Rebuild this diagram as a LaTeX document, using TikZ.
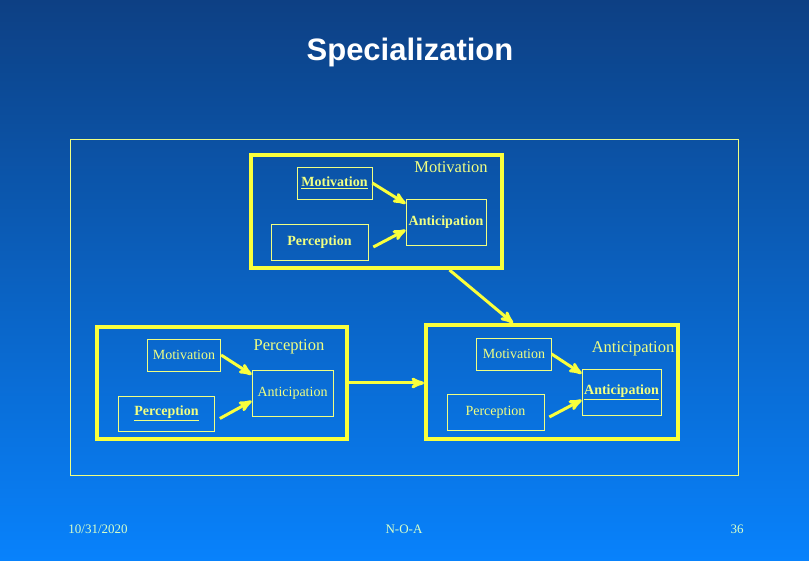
\documentclass[tikz,border=0pt]{standalone}
\usepackage{fontspec}
\setmainfont{Liberation Serif}
\newfontfamily\headfont{Liberation Sans}
\usepackage{xcolor}
\usetikzlibrary{arrows}
\definecolor{slidetop}{RGB}{13,64,132}
\definecolor{slidebot}{RGB}{8,130,252}
\definecolor{hiyel}{RGB}{250,255,60}
\definecolor{paleyel}{RGB}{240,255,130}
\definecolor{footcol}{RGB}{215,255,200}

\begin{document}
\begin{tikzpicture}[>=stealth',x=1pt,y=-1pt]
\tikzstyle{group}=[draw=hiyel,line width=4pt,inner sep=0pt]
\tikzstyle{unit}=[draw=paleyel,line width=0.7pt,inner sep=0pt,text=paleyel,font=\fontsize{14}{16}\selectfont]
\tikzstyle{caption}=[text=paleyel,font=\fontsize{16.5}{18}\selectfont]
\tikzstyle{footer}=[text=footcol,font=\fontsize{13}{15}\selectfont]
\tikzstyle{arrow}=[draw=hiyel,line width=3pt,->]
% slide background
\shade[top color=slidetop,bottom color=slidebot] (0,0) rectangle (809,561);
\useasboundingbox (0,0) rectangle (809,561);
\node[text=white,font=\headfont\bfseries\fontsize{31}{35}\selectfont] (title) at (410,52) {Specialization};
\node[draw=paleyel,line width=0.7pt,minimum width=668pt,minimum height=336pt] (frame) at (404,307) {};
% the three groups
\foreach \pos/\name/\w/\h in {{(376.5,211.5)/mot/251/113},{(222,383)/per/250/112},{(552,382)/ant/252/114}}
  \node[group,minimum width=\w pt,minimum height=\h pt] (\name) at \pos {};
\node[caption] (mot_c) at (451,167) {Motivation};
\node[caption] (per_c) at (289,347) {Perception};
\node[caption] (ant_c) at (633,349) {Anticipation};
% motivation group
\node[unit,minimum width=75pt,minimum height=32pt] (mot_m) at (334.5,183) {\bfseries\underline{Motivation}};
\node[unit,minimum width=97pt,minimum height=36pt] (mot_p) at (319.5,242) {\bfseries Perception};
\node[unit,minimum width=80pt,minimum height=46pt] (mot_a) at (446,222) {\bfseries Anticipation};
% perception group
\node[unit,minimum width=73.5pt,minimum height=32pt] (per_m) at (184,355) {Motivation};
\node[unit,minimum width=96pt,minimum height=35pt] (per_p) at (166.5,413.5) {\bfseries\underline{Perception}};
\node[unit,minimum width=81pt,minimum height=46pt] (per_a) at (292.5,393) {Anticipation};
% anticipation group
\node[unit,minimum width=74.5pt,minimum height=32pt] (ant_m) at (514,354) {Motivation};
\node[unit,minimum width=97pt,minimum height=36pt] (ant_p) at (495.5,412) {Perception};
\node[unit,minimum width=79pt,minimum height=46pt] (ant_a) at (621.5,392) {\bfseries\underline{Anticipation}};
\foreach \g in {mot,per,ant}{
  \path[arrow] (\g_m.east) to ([yshift=-5pt]\g_a.north west);
  \path[arrow] ([xshift=5pt,yshift=-5pt]\g_p.east) to ([yshift=-8pt]\g_a.west);
}
\path[arrow] ([xshift=73pt]mot.south) to ([xshift=-39pt]ant.north);
\path[arrow] (per.east) to (per.east -| ant.west);
% footer
\node[footer] (date) at (98,529) {10/31/2020};
\node[footer] (org) at (404,529) {N-O-A};
\node[footer] (page) at (737,529) {36};
\end{tikzpicture}
\end{document}
